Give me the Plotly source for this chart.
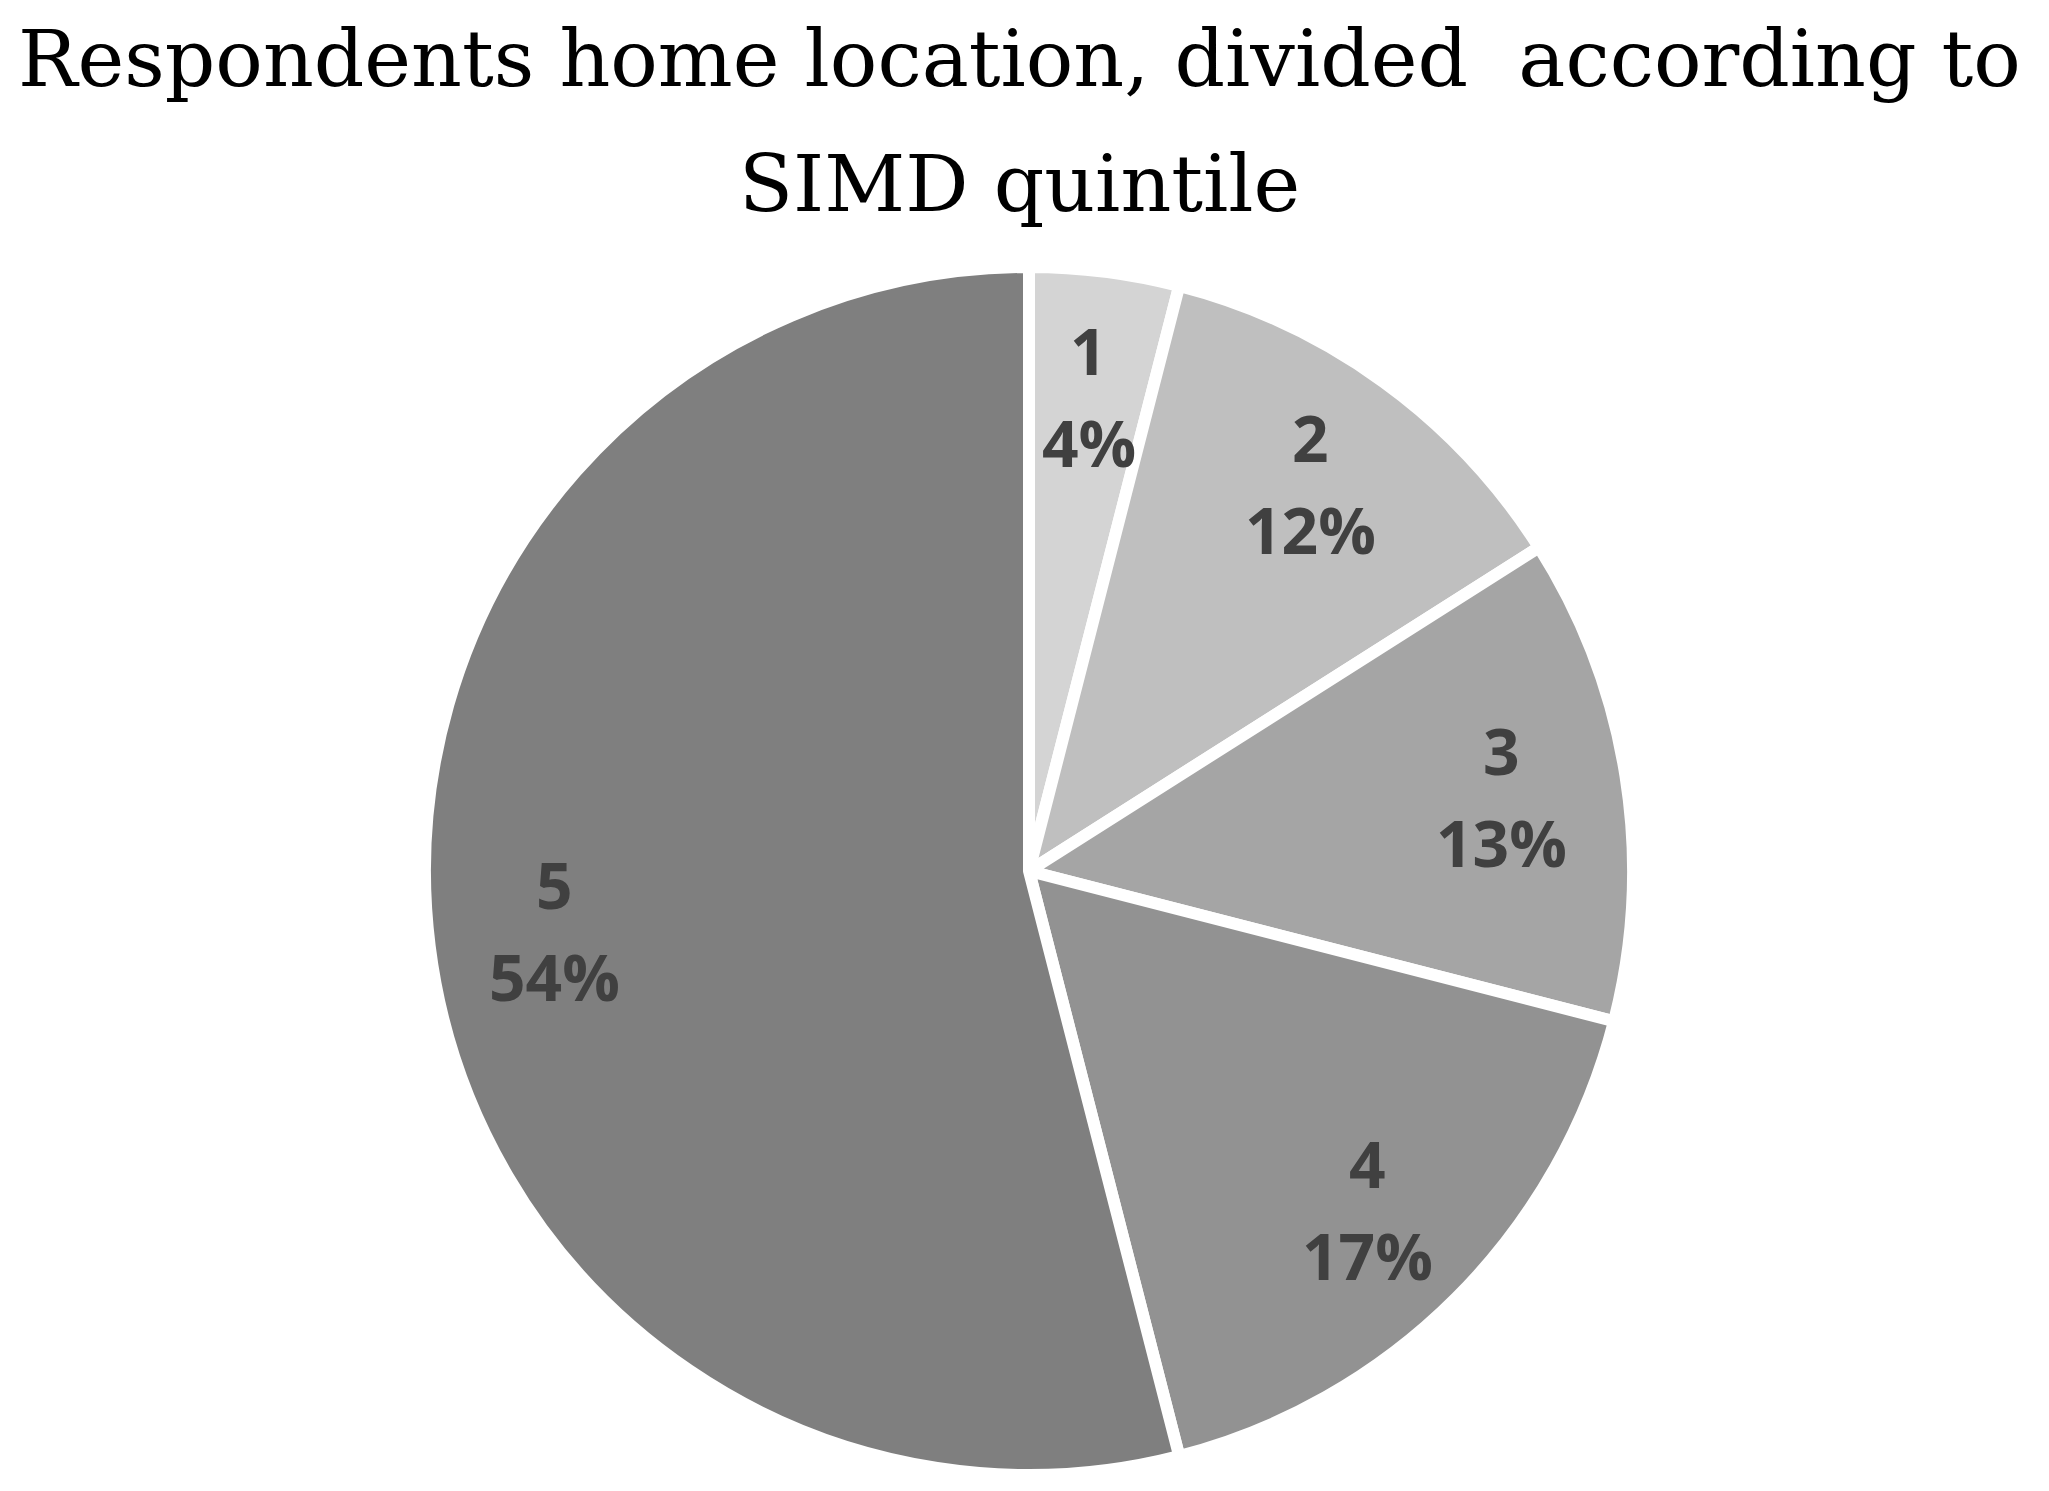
import math
import plotly.graph_objects as go

categories = ["1", "2", "3", "4", "5"]
values = [4, 12, 13, 17, 54]
colors = ["#d4d4d4", "#bfbfbf", "#a5a5a5", "#929292", "#7f7f7f"]
title_lines = ["Respondents home location, divided  according to", "SIMD quintile"]

W, H = 2049, 1491
BODY = 8  # default page margin offset
cx_px, cy_px = 1029 - BODY, 871 - BODY
LW = 12
R = 598 + LW / 2

fig = go.Figure(go.Pie(
    labels=categories, values=values, sort=False, direction="clockwise", rotation=0,
    marker=dict(colors=colors, line=dict(color="white", width=LW)),
    textinfo="none", hoverinfo="label+percent", showlegend=False,
    domain=dict(x=[(cx_px - R) / W, (cx_px + R) / W],
                y=[1 - (cy_px + R) / H, 1 - (cy_px - R) / H]),
))

annotations = []
total = sum(values)
cum = 0
for cat, v in zip(categories, values):
    mid = (cum + v / 2) / total * 2 * math.pi
    cum += v
    r = 0.8 * 598
    px = cx_px + r * math.sin(mid)
    py = cy_px - r * math.cos(mid)
    for txt, off in ((cat, -46), (f"{round(v / total * 100)}%", 46)):
        annotations.append(dict(
            x=px / W, y=1 - (py + off) / H, xref="paper", yref="paper",
            text=f"<b>{txt}</b>", showarrow=False, xanchor="center", yanchor="middle",
            font=dict(family="Open Sans", size=64, color="#404040")))

for line, base in zip(title_lines, [88, 213]):
    annotations.append(dict(
        x=(1019.5 - BODY) / W, y=1 - (base - 37) / H, xref="paper", yref="paper",
        text=line, showarrow=False, xanchor="center", yanchor="middle",
        font=dict(family="DejaVu Serif", size=79, color="#000000")))

fig.update_layout(
    width=W, height=H, margin=dict(l=0, r=0, t=0, b=0),
    paper_bgcolor="white", plot_bgcolor="white",
    annotations=annotations,
)

fig.write_html("out.html")
